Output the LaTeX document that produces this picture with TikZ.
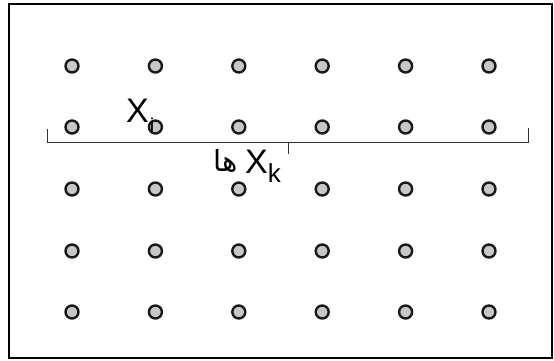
\documentclass[tikz,border=0pt]{standalone}
\usepackage{fontspec}
\setmainfont{Liberation Sans}
\newfontfamily\arabicfont[Script=Arabic]{DejaVu Sans}
\TeXXeTstate=1
\begin{document}
\begin{tikzpicture}[x=1pt,y=-1pt,
  dot/.style={circle,draw=black!90,line width=2.4pt,fill=black!22,minimum size=13pt,inner sep=0pt},
  frame/.style={draw=black,line width=1.2pt},
  brace/.style={draw=black!80,line width=1pt},
  lbl/.style={inner sep=0pt}]
\useasboundingbox (0,0) rectangle (554,360);
\draw[frame] (9,4) rectangle (552,358);
\foreach \r/\yy in {1/66,2/127,3/189,4/251,5/312}{
  \foreach \c/\xx in {1/72,2/155.4,3/238.8,4/322.2,5/405.6,6/489}{
    \node[dot] (d-\r-\c) at (\xx,\yy) {};
  }
}
\coordinate (bl) at (47,129);
\coordinate (bla) at (47,142);
\coordinate (bm) at (288,142);
\coordinate (bmt) at (288,154);
\coordinate (bra) at (528,142);
\coordinate (br) at (528,128);
\draw[brace] (bl) -- (bla) -- (bra) -- (br);
\draw[brace] (bm) -- (bmt);
\node[lbl,anchor=base west] (xi) at (126,122) {\fontsize{34}{38}\selectfont X\kern1pt\raisebox{-10pt}{\fontsize{20}{22}\selectfont i}};
\node[lbl,anchor=base east] (ha) at (238,171) {\arabicfont\fontsize{29}{32}\selectfont\beginR ها\endR};
\node[lbl,anchor=base west] (xk) at (245,173) {\fontsize{34}{38}\selectfont X\raisebox{-9pt}{\fontsize{26}{28}\selectfont k}};
\end{tikzpicture}
\end{document}
